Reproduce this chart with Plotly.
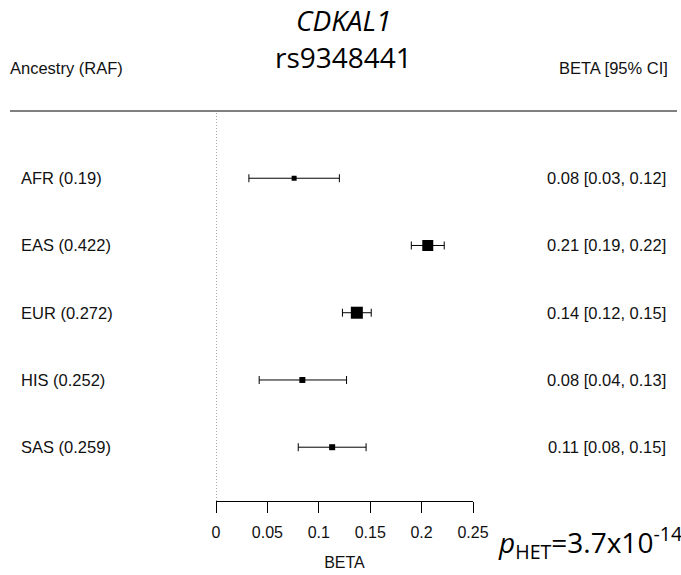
import plotly.graph_objects as go

# ---- data ----
ancestry = ["AFR", "EAS", "EUR", "HIS", "SAS"]
raf = ["0.19", "0.422", "0.272", "0.252", "0.259"]
beta = [0.076, 0.206, 0.137, 0.084, 0.113]
ci_low = [0.032, 0.190, 0.123, 0.042, 0.080]
ci_high = [0.120, 0.222, 0.151, 0.127, 0.146]
x_ticks = [0, 0.05, 0.1, 0.15, 0.2, 0.25]
x_ticklabels = ["0", "0.05", "0.1", "0.15", "0.2", "0.25"]
gene = "CDKAL1"
snp = "rs9348441"
p_het = "3.7x10<sup>-14</sup>"
marker_sizes = [5, 11, 12, 6, 6]

W, H = 681, 575
ML, MR, MT, MB = 216, 208, 111, 74
pw = W - ML - MR
ph = H - MT - MB

def px_x(p):
    return (p - ML) / pw

def px_y(p):
    return (H - MB - p) / ph

n = len(ancestry)
ypos = list(range(n, 0, -1))

fig = go.Figure()
fig.add_trace(go.Scatter(
    x=beta, y=ypos, mode="markers",
    marker=dict(symbol="square", color="black", size=marker_sizes,
                opacity=1, line=dict(width=0)),
    error_x=dict(type="data", symmetric=False,
                 array=[h - b for h, b in zip(ci_high, beta)],
                 arrayminus=[b - l for b, l in zip(beta, ci_low)],
                 color="black", thickness=1, width=4),
    showlegend=False, hoverinfo="skip",
))

font_lab = dict(family="Liberation Sans, Arial, sans-serif", size=16.5, color="#111111")
font_tick = dict(family="Liberation Sans, Arial, sans-serif", size=16, color="#111111")
ann = []
for i in range(n):
    ann.append(dict(x=px_x(19), y=ypos[i], xref="paper", yref="y",
                    text=f"{ancestry[i]} ({raf[i]})", showarrow=False,
                    xanchor="left", yanchor="middle", font=font_lab))
    ann.append(dict(x=px_x(668), y=ypos[i], xref="paper", yref="y",
                    text=f"{beta[i]:.2f} [{ci_low[i]:.2f}, {ci_high[i]:.2f}]",
                    showarrow=False, xanchor="right", yanchor="middle", font=font_lab))

ann.append(dict(x=px_x(8), y=px_y(68), xref="paper", yref="paper",
                text="Ancestry (RAF)", showarrow=False, xanchor="left",
                yanchor="middle", font=font_lab))
ann.append(dict(x=px_x(670), y=px_y(68), xref="paper", yref="paper",
                text="BETA [95% CI]", showarrow=False, xanchor="right",
                yanchor="middle", font=font_lab))

font_title = dict(family="Open Sans, sans-serif", size=28, color="black")
ann.append(dict(x=px_x(343), y=px_y(20), xref="paper", yref="paper",
                text=f"<i>{gene}</i>", showarrow=False, xanchor="center",
                yanchor="middle", font=font_title))
ann.append(dict(x=px_x(343), y=px_y(57), xref="paper", yref="paper",
                text=snp, showarrow=False, xanchor="center",
                yanchor="middle", font=font_title))
ann.append(dict(x=px_x(496), y=px_y(542), xref="paper", yref="paper",
                text=f"<i>p</i><sub>HET</sub>={p_het}", showarrow=False,
                xanchor="left", yanchor="middle", font=font_title))

shapes = [
    dict(type="line", xref="paper", yref="paper", x0=px_x(10), x1=px_x(677),
         y0=1, y1=1, line=dict(color="black", width=1)),
    dict(type="line", xref="x", yref="paper", x0=0, x1=0, y0=0, y1=0.995,
         line=dict(color="#555555", width=1, dash="1px,2px")),
]

fig.update_layout(
    width=W, height=H,
    margin=dict(l=ML, r=MR, t=MT, b=MB, pad=0, autoexpand=False),
    paper_bgcolor="white", plot_bgcolor="white",
    annotations=ann, shapes=shapes,
    xaxis=dict(range=[0, 0.25], tickvals=x_ticks, ticktext=x_ticklabels,
               showgrid=False, zeroline=False, showline=True, linecolor="black",
               linewidth=1, ticks="outside", ticklen=11, tickcolor="black",
               tickwidth=1, tickfont=font_tick, ticklabelstandoff=6,
               automargin=False,
               title=dict(text="BETA", font=font_tick, standoff=16),
               fixedrange=True),
    yaxis=dict(range=[0.2, 6.0], visible=False, showgrid=False, zeroline=False,
               automargin=False, fixedrange=True),
)

fig.write_html("out.html", post_script="document.body.style.margin='0';",
               config={"displayModeBar": False})
